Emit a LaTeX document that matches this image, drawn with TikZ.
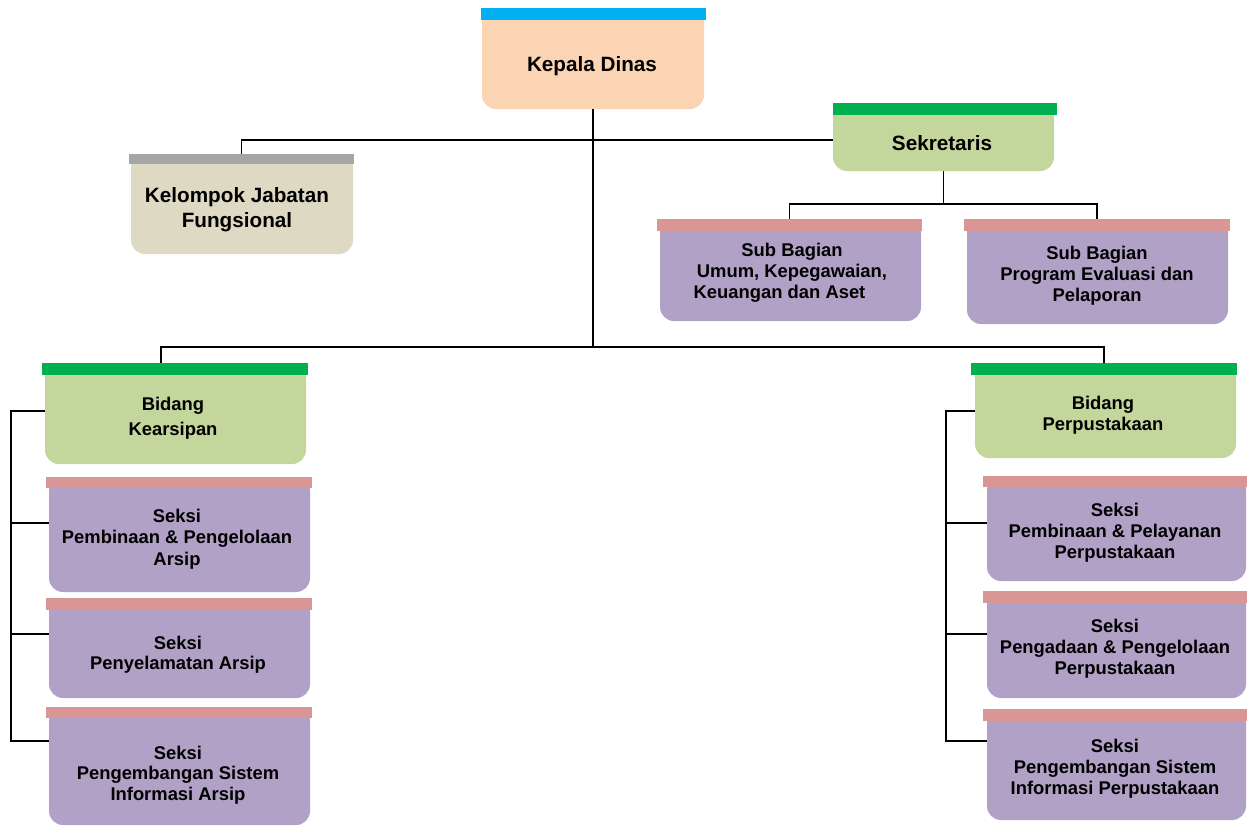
\documentclass[tikz,border=0pt]{standalone}
\usepackage{fontspec}
\setmainfont{Liberation Sans}
\definecolor{peachbody}{HTML}{FBD4B4}
\definecolor{peachbar}{HTML}{00B0F0}
\definecolor{khakibody}{HTML}{DDD9C3}
\definecolor{khakibar}{HTML}{A6A6A6}
\definecolor{greenbody}{HTML}{C3D69B}
\definecolor{greenbar}{HTML}{00B050}
\definecolor{purplebody}{HTML}{B2A1C7}
\definecolor{purplebar}{HTML}{D99694}
\tikzset{
  orgbody/.style={rectangle, rounded corners=14pt, inner sep=0pt, draw=none},
  orgbar/.style={rectangle, inner sep=0pt, draw=none},
  bigtxt/.style={font=\bfseries\fontsize{20.7}{25}\selectfont, align=center, inner sep=0pt, text=black},
  smalltxt/.style={font=\bfseries\fontsize{18.4}{21}\selectfont, align=center, inner sep=0pt, text=black},
  conn/.style={draw=black, line width=1.9pt},
}
% name, bar x1, bar x2, bar y1, bar y2, body x1, body x2, body bottom, scheme
\newcommand{\orgbox}[9]{%
  \pgfmathsetmacro\orgBx{(#2+#3)/2}%
  \pgfmathsetmacro\orgBy{(#4+#5)/2}%
  \pgfmathsetmacro\orgBw{#3-#2}%
  \pgfmathsetmacro\orgBh{#5-#4}%
  \pgfmathsetmacro\orgCx{(#6+#7)/2}%
  \pgfmathsetmacro\orgCy{(#4+#8)/2}%
  \pgfmathsetmacro\orgCw{#7-#6}%
  \pgfmathsetmacro\orgCh{#8-#4}%
  \node[orgbody, fill=#9body, minimum width=\orgCw pt, minimum height=\orgCh pt] (#1) at (\orgCx,\orgCy) {};
  \node[orgbar, fill=#9bar, minimum width=\orgBw pt, minimum height=\orgBh pt] (#1bar) at (\orgBx,\orgBy) {};
}
\begin{document}
\begin{tikzpicture}[x=1pt,y=-1pt]
\useasboundingbox[fill=white] (0,0) rectangle (1247,827);

% boxes
\orgbox{kd}{481}{706}{8}{20}{482}{704}{109}{peach}
\orgbox{kjf}{129}{354}{154}{164}{131}{353}{254}{khaki}
\orgbox{sek}{833}{1057}{103}{115}{833}{1054}{171}{green}
\orgbox{sba}{657}{922}{219}{231}{660}{921}{321}{purple}
\orgbox{sbb}{964}{1230}{219}{231}{967}{1228}{324}{purple}
\orgbox{bk}{42}{308}{363}{375}{45}{306}{464}{green}
\orgbox{ska}{46}{312}{477}{488}{49}{310}{592}{purple}
\orgbox{skb}{46}{312}{598}{610}{49}{310}{698}{purple}
\orgbox{skc}{46}{312}{707}{718}{49}{310}{825}{purple}
\orgbox{bp}{971}{1237}{363}{375}{975}{1236}{458}{green}
\orgbox{spa}{983}{1247}{476}{487}{987}{1246}{581}{purple}
\orgbox{spb}{983}{1247}{591}{603}{987}{1246}{698}{purple}
\orgbox{spc}{983}{1247}{709}{721}{987}{1246}{820}{purple}

% texts
\node[bigtxt] (kdt) at (592,66) {Kepala Dinas};
\node[bigtxt] (kjft) at (237,210) {Kelompok Jabatan\\Fungsional};
\node[bigtxt] (sekt) at (942,143) {Sekretaris};
\node[smalltxt] (sbat) at (792,273) {Sub Bagian\\Umum, Kepegawaian,\\Keuangan dan Aset\hspace*{25pt}};
\node[smalltxt] (sbbt) at (1097,276) {Sub Bagian\\Program Evaluasi dan\\Pelaporan};
\node[smalltxt, font=\bfseries\fontsize{18.4}{25}\selectfont] (bkt) at (173,418) {Bidang\\Kearsipan};
\node[smalltxt, font=\bfseries\fontsize{18.4}{21.5}\selectfont] (skat) at (177,539) {Seksi\\Pembinaan \& Pengelolaan\\Arsip};
\node[smalltxt, font=\bfseries\fontsize{18.4}{20}\selectfont] (skbt) at (178,655) {Seksi\\Penyelamatan Arsip};
\node[smalltxt, font=\bfseries\fontsize{18.4}{20.5}\selectfont] (skct) at (178,775) {Seksi\\Pengembangan Sistem\\Informasi Arsip};
\node[smalltxt] (bpt) at (1103,415) {Bidang\\Perpustakaan};
\node[smalltxt] (spat) at (1115,533) {Seksi\\Pembinaan \& Pelayanan\\Perpustakaan};
\node[smalltxt] (spbt) at (1115,649) {Seksi\\Pengadaan \& Pengelolaan\\Perpustakaan};
\node[smalltxt] (spct) at (1115,769) {Seksi\\Pengembangan Sistem\\Informasi Perpustakaan};

% junctions
\coordinate (jtop) at (593,140);
\coordinate (jsek) at (943.5,204);
\coordinate (jmain) at (593,347);
\coordinate (jbk) at (161,363);
\coordinate (lb0) at (11,411);
\coordinate (lb1) at (11,523);
\coordinate (lb2) at (11,634);
\coordinate (lb3) at (11,741);
\coordinate (rb0) at (946,411);
\coordinate (rb1) at (946,523);
\coordinate (rb2) at (946,634);
\coordinate (rb3) at (946,741);

% connectors
\draw[conn] (kd.south) -- (jmain);
\draw[conn] (kjfbar.north) |- (jtop) -- (sek.west |- jtop);
\draw[conn] (sek.south) -- (jsek);
\draw[conn] (sbabar.north) |- (jsek) -| (sbbbar.north);
\draw[conn] (jbk) |- (jmain) -| (bpbar.north);
\draw[conn] (bk.west |- lb0) -- (lb0) -- (lb3) -- (skc.west |- lb3);
\draw[conn] (lb1) -- (ska.west |- lb1);
\draw[conn] (lb2) -- (skb.west |- lb2);
\draw[conn] (bp.west |- rb0) -- (rb0) -- (rb3) -- (spc.west |- rb3);
\draw[conn] (rb1) -- (spa.west |- rb1);
\draw[conn] (rb2) -- (spb.west |- rb2);
\end{tikzpicture}
\end{document}
